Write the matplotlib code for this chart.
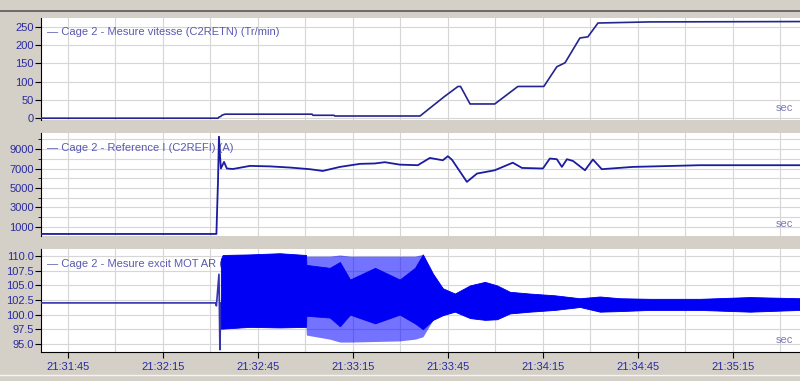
import matplotlib
matplotlib.use('Agg')
import matplotlib.pyplot as plt
from matplotlib.ticker import MultipleLocator, FixedLocator, FuncFormatter
from matplotlib.lines import Line2D

# time origin: 21:31:45, all times below are seconds after it
T0 = 21 * 3600 + 31 * 60 + 45

# --- Cage 2 - Mesure vitesse (C2RETN) (Tr/min)
vit_t = [-8.5, 47.4, 47.7, 48.3, 48.6, 49.6, 77.1, 77.4, 84.0, 84.3, 111.2, 119.0,
         123.2, 124.0, 127.0, 134.8, 142.1, 143.0, 150.3, 154.4, 157.0, 161.7,
         164.2, 167.4, 183.8, 231.2]
vit_v = [0, 0, 3, 5, 8, 11, 11, 8, 8, 6, 6, 60,
         87, 87, 39, 39, 87, 87, 87, 141, 152, 220,
         223, 261, 264, 265]

# --- Cage 2 - Reference I (C2REFI) (A)
ref_t = [-8.5, 46.9, 47.1, 47.4, 47.7, 48.0, 48.3, 49.3, 50.2, 52.1, 57.5, 63.8,
         70.1, 76.4, 80.5, 85.9, 92.2, 96.9, 100.1, 104.8, 110.5, 114.3, 118.4,
         120.0, 121.3, 126.0, 129.2, 134.8, 140.5, 143.4, 150.0, 152.2, 154.4,
         156.0, 157.6, 159.5, 163.3, 165.8, 168.6, 178.4, 199.6, 231.2]
ref_v = [250, 250, 2500, 5700, 10270, 8500, 7000, 7680, 7000, 6950, 7270, 7220,
         7100, 6930, 6750, 7165, 7480, 7520, 7650, 7400, 7340, 8090, 7850,
         8270, 7900, 5620, 6480, 6820, 7600, 7060, 7000, 8030, 7960,
         7165, 7960, 7780, 6820, 7930, 6930, 7165, 7340, 7340]

# --- Cage 2 - Mesure excit MOT AR : flat part before start
exc_t = [-8.5, 46.6, 46.9, 47.7, 48.0, 48.3]
exc_v = [102.0, 102.0, 101.5, 106.9, 94.0, 102.0]

# envelope of the oscillation band (dense core) and outer spikes
band_t = [48.3, 48.9, 57.5, 66.9, 75.2, 75.3, 82.7, 85.9, 89.1, 97.0, 104.8,
          109.6, 112.1, 115.3, 118.4, 122.2, 127.0, 131.7, 135.5, 139.6, 145.9,
          153.8, 161.7, 168.0, 174.3, 183.8, 199.6, 215.4, 231.2]
core_hi = [109.5, 110.2, 110.3, 110.5, 110.2, 108.5, 108.0, 109.0, 106.0, 108.0, 106.0,
           108.0, 110.3, 107.0, 104.5, 103.6, 105.0, 105.6, 105.0, 103.9, 103.6,
           103.3, 102.8, 103.1, 102.8, 102.7, 102.7, 103.0, 102.8]
core_lo = [97.6, 97.6, 97.9, 97.8, 97.9, 99.8, 99.5, 98.0, 100.0, 98.5, 100.0,
           98.5, 97.5, 99.1, 99.9, 100.5, 99.4, 99.1, 99.2, 100.2, 100.5,
           100.8, 101.3, 100.5, 100.6, 100.8, 100.8, 100.5, 100.8]
outer_hi = [109.5, 110.2, 110.3, 110.5, 110.2, 110.0, 110.0, 110.2, 110.0, 110.0, 110.0,
            110.0, 110.3, 107.0, 104.5, 103.6, 105.0, 105.6, 105.0, 103.9, 103.6,
            103.3, 102.8, 103.1, 102.8, 102.7, 102.7, 103.0, 102.8]
outer_lo = [97.6, 97.6, 97.9, 97.8, 97.9, 96.5, 95.8, 95.3, 95.3, 95.4, 95.5,
            95.8, 96.2, 99.1, 99.9, 100.5, 99.4, 99.1, 99.2, 100.2, 100.5,
            100.8, 101.3, 100.5, 100.6, 100.8, 100.8, 100.5, 100.8]

labels = ["Cage 2 - Mesure vitesse (C2RETN) (Tr/min)",
          "Cage 2 - Reference I (C2REFI) (A)",
          "Cage 2 - Mesure excit MOT AR (C2...)"]

plt.rcParams['font.family'] = ['Liberation Sans', 'DejaVu Sans']

bg = '#d4d0c8'
tick_col = '#2a2aa0'
line_col = '#24248f'

fig = plt.figure(figsize=(8, 3.81), dpi=100, facecolor=bg)
left, width = 41 / 800, 1 - 41 / 800
ax1 = fig.add_axes([left, 0.685, width, 0.268])
ax2 = fig.add_axes([left, 0.3806, width, 0.270])
ax3 = fig.add_axes([left, 0.0761, width, 0.270])


def hms(x, pos):
    s = int(round(T0 + x))
    return f"{s // 3600:02d}:{(s % 3600) // 60:02d}:{s % 60:02d}"


for ax in (ax1, ax2, ax3):
    ax.set_facecolor('white')
    ax.set_xlim(-8.5, 231.2)
    for sp in ('top', 'right', 'bottom'):
        ax.spines[sp].set_visible(False)
    ax.spines['left'].set_color('black')
    ax.xaxis.set_major_locator(MultipleLocator(30))
    ax.xaxis.set_minor_locator(MultipleLocator(15))
    ax.grid(True, which='both', color='#d6d6d6', linewidth=0.8, zorder=0)
    ax.set_axisbelow(True)
    ax.tick_params(axis='y', which='major', direction='out', length=4,
                   colors='black', labelcolor=tick_col, labelsize=8, pad=1)
    ax.tick_params(axis='y', which='minor', length=2, colors='black')
    ax.tick_params(axis='x', which='both', length=0, labelbottom=False)
    ax.text(0.991, 0.118, 'sec', transform=ax.transAxes, ha='right', va='center',
            fontsize=8, color='#7a7ab8')

# top: speed
ax1.plot(vit_t, vit_v, color=line_col, linewidth=1.2, zorder=3)
ax1.set_ylim(-5, 275)
ax1.yaxis.set_major_locator(MultipleLocator(50))

# middle: current reference
ax2.plot(ref_t, ref_v, color='#1c1ca0', linewidth=1.3, zorder=3)
ax2.set_ylim(40, 10650)
ax2.yaxis.set_major_locator(FixedLocator([1000, 3000, 5000, 7000, 9000]))
ax2.yaxis.set_minor_locator(MultipleLocator(1000))
ax2.grid(True, axis='y', which='minor', color='#d6d6d6', linewidth=0.8)

# bottom: excitation
ax3.plot(exc_t, exc_v, color='#3434b0', linewidth=1.2, zorder=3)
ax3.fill_between(band_t, outer_lo, outer_hi, color='#0000ff', alpha=0.55,
                 linewidth=0, zorder=3)
ax3.fill_between(band_t, core_lo, core_hi, color='#0000f5', linewidth=0.6,
                 edgecolor='#0000f5', zorder=3)
ax3.set_ylim(93.6, 111.2)
ax3.yaxis.set_major_locator(MultipleLocator(2.5))
ax3.yaxis.set_major_formatter(FuncFormatter(lambda v, p: f"{v:.1f}"))
ax3.spines['bottom'].set_visible(True)
ax3.spines['bottom'].set_color('black')
ax3.tick_params(axis='x', which='major', length=4, direction='out',
                colors='black', labelcolor=tick_col, labelsize=8,
                labelbottom=True, pad=3)
ax3.xaxis.set_major_formatter(FuncFormatter(hms))

# legend-like captions, drawn under the data
for ax, lab in zip((ax1, ax2, ax3), labels):
    ax.text(0.008, 0.86, '\u2014 ' + lab, transform=ax.transAxes, ha='left',
            va='center', fontsize=8, color='#5a5ab0', zorder=2)

# window chrome lines
fig.add_artist(Line2D([0, 1], [1 - 10.5 / 381, 1 - 10.5 / 381], color='#5a5a5a',
                      linewidth=1.2, transform=fig.transFigure))
fig.add_artist(Line2D([0, 1], [6 / 381, 6 / 381], color='#f4f4f4',
                      linewidth=1.0, transform=fig.transFigure))

fig.savefig('out.png', dpi=100, facecolor=bg)
